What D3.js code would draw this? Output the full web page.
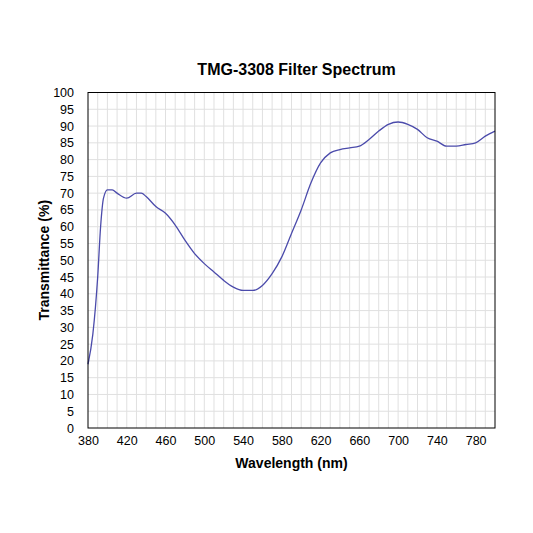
<!DOCTYPE html><html><head><script src="https://cdn.jsdelivr.net/npm/d3@7"></script>
<style>body{margin:0;background:#fff}</style></head><body><svg width="533" height="533"></svg><script>
const wavelengths=[380,385,390,393,396,400,405,410,420,430,435,440,450,460,470,480,490,500,510,520,530,540,550,560,570,580,590,600,610,620,630,640,650,660,670,680,690,700,710,720,730,740,750,760,770,780,790,800];
const transmittance=[19,28,45,60,68.5,71,71,70,68.5,70,70,69,66,64,60.5,56,52,49,46.5,44,42,41,41,42.5,46,51,58,65,73,79,82,83,83.5,84,86,88.5,90.5,91.2,90.5,89,86.5,85.5,84,84,84.5,85,87,88.5];
const xTicks=[380,420,460,500,540,580,620,660,700,740,780];
const yTicks=d3.range(0,101,5);
const svg=d3.select("svg");
const L=88,R=495,T=92.5,B=428;
const x=d3.scaleLinear().domain([380,800]).range([L,R]);
const y=d3.scaleLinear().domain([0,100]).range([B,T]);
const g=svg.append("g");
g.selectAll(".vg").data(d3.range(390,800,10)).join("line").attr("x1",d=>x(d)).attr("x2",d=>x(d)).attr("y1",T).attr("y2",B).attr("stroke","#e0e0e0");
g.selectAll(".hg").data(d3.range(5,100,5)).join("line").attr("y1",d=>y(d)).attr("y2",d=>y(d)).attr("x1",L).attr("x2",R).attr("stroke","#e0e0e0");
svg.append("g").attr("transform",`translate(0,${B})`).call(d3.axisBottom(x).tickValues(xTicks).tickSize(0).tickPadding(8)).call(a=>a.select(".domain").remove()).selectAll("text").attr("font-family","Liberation Sans, Arial").attr("font-size",12.5).attr("fill","#000");
svg.append("g").attr("transform",`translate(${L},0)`).call(d3.axisLeft(y).tickValues(yTicks).tickSize(0).tickPadding(14)).call(a=>a.select(".domain").remove()).selectAll("text").attr("font-family","Liberation Sans, Arial").attr("font-size",12.5).attr("fill","#000");
svg.append("path").datum(wavelengths.map((w,i)=>[w,transmittance[i]])).attr("fill","none").attr("stroke","#4b4bab").attr("stroke-width",1.3).attr("d",d3.line().x(d=>x(d[0])).y(d=>y(d[1])).curve(d3.curveMonotoneX));
svg.append("rect").attr("x",L).attr("y",T).attr("width",R-L).attr("height",B-T).attr("fill","none").attr("stroke","#000").attr("stroke-width",1);
svg.append("text").attr("x",(L+R)/2+5).attr("y",75).attr("text-anchor","middle").attr("font-family","Liberation Sans, Arial").attr("font-weight","bold").attr("font-size",16).text("TMG-3308 Filter Spectrum");
svg.append("text").attr("x",(L+R)/2).attr("y",468).attr("text-anchor","middle").attr("font-family","Liberation Sans, Arial").attr("font-weight","bold").attr("font-size",14).text("Wavelength (nm)");
svg.append("text").attr("transform",`translate(49,${(T+B)/2}) rotate(-90)`).attr("text-anchor","middle").attr("font-family","Liberation Sans, Arial").attr("font-weight","bold").attr("font-size",14).text("Transmittance (%)");
</script></body></html>
